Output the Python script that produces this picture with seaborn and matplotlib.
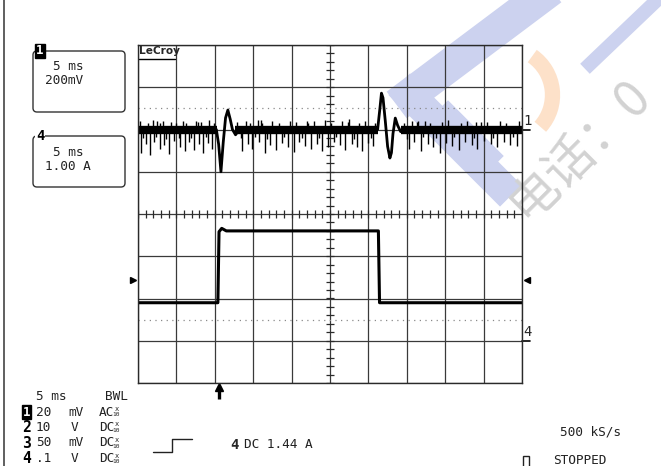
import numpy as np
import matplotlib
matplotlib.use('Agg')
import matplotlib.pyplot as plt
import matplotlib.transforms as mtrans
from matplotlib.patches import FancyBboxPatch, Rectangle, Arc
import seaborn as sns

# scope settings: 5 ms/div over 10 div, 8 vertical div
t_div = 5.0
n_xdiv = 10
n_ydiv = 8
ch1_mv_div = 200.0   # mV/div on zoom trace 1
ch1_offset = 2.0     # div
ch4_a_div = 1.0      # A/div on zoom trace 4
ch4_offset = -3.0    # div

# channel 1: quiet noise stretches (ms) and ringing at the two edges (ms, mV)
ch1_quiet = [(0.0, 10.3), (12.6, 31.2), (34.2, 50.0)]
ring1_t = [10.2, 10.5, 10.8, 11.1, 11.4, 11.7, 12.0, 12.3, 12.7, 13.2]
ring1_v = [0, -70, -200, -60, 55, 92, 50, 0, -25, 0]
ring2_t = [31.2, 31.5, 31.7, 31.9, 32.2, 32.5, 32.8, 33.0, 33.2, 33.5, 33.8, 34.2, 34.6]
ring2_v = [0, 100, 172, 150, 40, -80, -135, -110, -20, 54, 20, -10, 0]

# long noise spikes (ms, mV)
spike_t = [0.4, 1.0, 1.6, 2.1, 2.9, 3.4, 4.0, 4.7, 5.5, 6.1, 6.6, 7.3, 8.0, 8.5, 9.1, 9.6,
           13.6, 14.3, 14.9, 15.8, 16.5, 17.2, 18.0, 18.7, 19.5, 20.3, 21.0, 21.8, 22.5,
           23.3, 24.0, 24.8, 25.5, 26.3, 27.0, 27.8, 28.5, 29.2, 30.0, 30.6,
           35.3, 36.0, 36.8, 37.7, 38.4, 39.3, 40.1, 40.9, 41.8, 42.6, 43.5, 44.2, 45.1,
           45.9, 46.8, 47.6, 48.5, 49.3,
           2.5, 7.8, 16.0, 22.0, 27.5, 36.5, 44.0]
spike_v = [-110, -70, -120, -60, -90, -75, -115, -55, -85, -100, -60, -95, -70, -110, -65, -90,
           -100, -70, -90, -60, -110, -75, -95, -65, -85, -105, -60, -80, -90,
           -70, -100, -85, -60, -75, -95, -70, -85, -100, -65, -80,
           -90, -60, -100, -70, -85, -110, -65, -80, -95, -60, -75, -90, -55,
           -70, -85, -60, -75, -80,
           40, 35, 45, 40, 50, 40, 35]

# short hairs along the edges of the noise band (ms, mV)
hair_t = [0.2, 0.7, 1.3, 1.9, 2.3, 2.8, 3.2, 3.7, 4.3, 4.9, 5.3, 5.8, 6.3, 6.9, 7.5, 8.2, 8.8,
          9.3, 9.9,
          12.9, 13.4, 14.0, 14.6, 15.2, 15.6, 16.2, 16.8, 17.5, 18.3, 19.0, 19.8, 20.6, 21.3,
          22.2, 22.9, 23.6, 24.4, 25.1, 25.8, 26.6, 27.3, 28.1, 28.8, 29.6, 30.3, 30.9,
          34.6, 35.0, 35.7, 36.3, 37.1, 37.4, 38.0, 38.8, 39.6, 40.4, 41.2, 42.1, 42.9, 43.8,
          44.6, 45.4, 46.2, 47.1, 47.9, 48.8, 49.6]
hair_v = [38, -40, 32, 44, -35, 30, 41, -45, 36, 33, -38, 42, 30, -42, 39, 35, -36, 43, 31,
          34, -40, 41, 30, -37, 44, 33, -45, 38, 31, -36, 42, 35, -41, 30, 39, -38, 44, 32,
          -35, 40, 36, -43, 31, 38, -39, 33,
          33, -44, 40, 35, -37, 42, 30, -40, 37, 43, -35, 31, 39, -42, 34, 36, -38, 41, 30,
          -36, 38]

# channel 4: current pulse (ms, A)
ch4_t = [0.0, 10.4, 10.55, 10.9, 11.5, 31.3, 31.45, 50.0]
ch4_a = [0.9, 0.9, 2.58, 2.66, 2.6, 2.6, 0.9, 0.9]

trig_t = 10.5      # ms
trig_level = 1.44  # A

sns.set_style('white')
plt.rcParams['font.family'] = ['DejaVu Sans Mono', 'Noto Sans CJK SC']

W, H = 661, 466
fig = plt.figure(figsize=(W / 100, H / 100), dpi=100)
fig.patch.set_facecolor('white')

# watermark layer underneath everything
wm = fig.add_axes([0, 0, 1, 1], zorder=0)
wm.set_xlim(0, W)
wm.set_ylim(H, 0)
wm.axis('off')
blue = '#ccd2ef'
for xs, ys, lw in [([550, 410], [-10, 95], 24), ([410, 500], [95, 185], 22),
                   ([448, 492], [112, 156], 12), ([590, 655], [64, 2], 10)]:
    wm.plot(xs, ys, color=blue, lw=lw, solid_capstyle='projecting')
wm.add_patch(Arc((505, 95), 95, 95, theta1=-55, theta2=42, color='#fde1c9', lw=11))
wm.text(527, 222, '电话：0', rotation=45, rotation_mode='anchor', ha='left', va='baseline',
        fontsize=36, color='#d2d2d2', family=['Noto Sans CJK SC', 'DejaVu Sans'])

ax = fig.add_axes([138 / W, (H - 383) / H, 384 / W, 338 / H], zorder=1)
ax.patch.set_alpha(0)
ax.set_xlim(0, t_div * n_xdiv)
ax.set_ylim(-n_ydiv / 2, n_ydiv / 2)
ax.set_xticks(np.arange(0, t_div * n_xdiv + 0.1, t_div))
ax.set_yticks(np.arange(-n_ydiv / 2, n_ydiv / 2 + 0.1, 1))
ax.tick_params(length=0, labelbottom=False, labelleft=False)
ax.grid(True, color='#3a3a3a', lw=0.9)
for s in ax.spines.values():
    s.set_color('#2a2a2a')
    s.set_linewidth(1.0)

# centre cross minor ticks
xc = t_div * n_xdiv / 2
ax.hlines(np.arange(-4, 4.01, 0.2), xc - 0.5, xc + 0.5, color='#2a2a2a', lw=0.9)
ax.vlines(np.arange(0, 50.01, 1.0), -0.1, 0.1, color='#2a2a2a', lw=0.9)

# ground reference dotted lines
ax.axhline(ch1_offset + 0.5, color='#8a8a8a', ls=(0, (1, 3.5)), lw=0.9)
ax.axhline(ch4_offset + 0.5, color='#8a8a8a', ls=(0, (1, 3.5)), lw=0.9)

# channel 1
for a, b in ch1_quiet:
    sns.lineplot(x=[a, b], y=[ch1_offset, ch1_offset], ax=ax, color='black', lw=6,
                 solid_capstyle='butt')
for rt, rv in [(ring1_t, ring1_v), (ring2_t, ring2_v)]:
    sns.lineplot(x=rt, y=[ch1_offset + v / ch1_mv_div for v in rv], ax=ax,
                 color='black', lw=2.0, sort=False, estimator=None)
ax.vlines(spike_t, ch1_offset, [ch1_offset + v / ch1_mv_div for v in spike_v],
          color='black', lw=1.0)
ax.vlines(hair_t, ch1_offset, [ch1_offset + v / ch1_mv_div for v in hair_v],
          color='black', lw=1.0)

# channel 4
sns.lineplot(x=ch4_t, y=[ch4_offset + a / ch4_a_div for a in ch4_a], ax=ax,
             color='black', lw=2.2, sort=False, estimator=None)

# trigger level markers and trigger point arrow
ty = ch4_offset + trig_level / ch4_a_div
bt = mtrans.blended_transform_factory(ax.transAxes, ax.transData)
ax.plot([-0.013], [ty], marker='>', color='black', ms=5, transform=bt, clip_on=False)
ax.plot([1.013], [ty], marker='<', color='black', ms=5, transform=bt, clip_on=False)
bx = mtrans.blended_transform_factory(ax.transData, ax.transAxes)
ax.plot([trig_t, trig_t], [-0.046, -0.012], color='black', lw=2.4, transform=bx,
        clip_on=False, solid_capstyle='butt')
ax.plot([trig_t], [-0.012], marker='^', color='black', ms=6, transform=bx, clip_on=False)

# trace labels on the right edge
for lab, off in [('1', ch1_offset), ('4', ch4_offset)]:
    ax.plot([1.0, 1.022], [off, off], color='black', lw=1.2, transform=bt, clip_on=False)
    ax.text(1.004, off + 0.03, lab, transform=bt, ha='left', va='bottom', fontsize=10)

ax.text(0.003, 0.996, 'LeCroy', transform=ax.transAxes, ha='left', va='top',
        fontsize=7.6, fontweight='bold', family='DejaVu Sans')
ax.plot([0.003, 0.096], [0.958, 0.958], color='black', lw=1, transform=ax.transAxes)

# overlay in pixel coordinates for the readout panels
deco = fig.add_axes([0, 0, 1, 1], zorder=5)
deco.set_xlim(0, W)
deco.set_ylim(H, 0)
deco.axis('off')
deco.patch.set_alpha(0)

deco.axvline(4, color='#444', lw=1.2)
fs = 9.2
mono = dict(fontsize=fs, va='center', color='#222')

for (y0, y1, lab, inv, l1, l2) in [(51, 112, '1', True, '5 ms', '200mV'),
                                  (136, 187, '4', False, '5 ms', '1.00 A')]:
    deco.add_patch(FancyBboxPatch((33, y0), 92, y1 - y0,
                                  boxstyle='round,pad=0,rounding_size=4',
                                  fill=False, ec='#333', lw=1))
    if inv:
        deco.text(40, y0, lab, ha='center', va='center', fontsize=9, fontweight='bold',
                  color='white', bbox=dict(fc='black', ec='black', pad=0.6))
    else:
        deco.text(40, y0, lab, ha='center', va='center', fontsize=10, fontweight='bold',
                  color='black', bbox=dict(fc='white', ec='none', pad=0.3))
    deco.text(53, y0 + 16, l1, ha='left', **mono)
    deco.text(45, y0 + 30, l2, ha='left', **mono)

# bottom readout
deco.text(36, 396, '5 ms', ha='left', **mono)
deco.text(105, 396, 'BWL', ha='left', **mono)
rows = [('1', '20', 'mV', 'AC'), ('2', '10', 'V', 'DC'),
        ('3', '50', 'mV', 'DC'), ('4', '.1', 'V', 'DC')]
for i, (ch, val, unit, cpl) in enumerate(rows):
    y = 412 + i * 15.5
    if i == 0:
        deco.text(26.5, y, ch, ha='center', va='center', fontsize=9, fontweight='bold',
                  color='white', bbox=dict(fc='black', ec='black', pad=0.4))
    else:
        deco.text(26.5, y, ch, ha='center', va='center', fontsize=10.5,
                  fontweight='bold', color='black')
    deco.text(51, y, val, ha='right', **mono)
    deco.text(68 if unit == 'mV' else 74.5, y, unit,
              ha='left' if unit == 'mV' else 'center', **mono)
    deco.text(99, y, cpl, ha='left', **mono)
    deco.text(116.5, y - 3, 'x', ha='center', va='center', fontsize=5, color='#222')
    deco.text(116.5, y + 3, '10', ha='center', va='center', fontsize=4.5, color='#222')

deco.plot([153, 172, 172, 192], [452, 452, 439, 439], color='#222', lw=1)
deco.text(230, 445, '4', ha='left', va='center', fontsize=10, fontweight='bold')
deco.text(244, 445, 'DC 1.44 A', ha='left', **mono)
deco.text(560, 432, '500 kS/s', ha='left', **mono)
deco.add_patch(Rectangle((523, 456), 6, 11, fill=False, ec='#222', lw=1))
deco.text(553, 461, 'STOPPED', ha='left', **mono)

fig.savefig('out.png', dpi=100)
